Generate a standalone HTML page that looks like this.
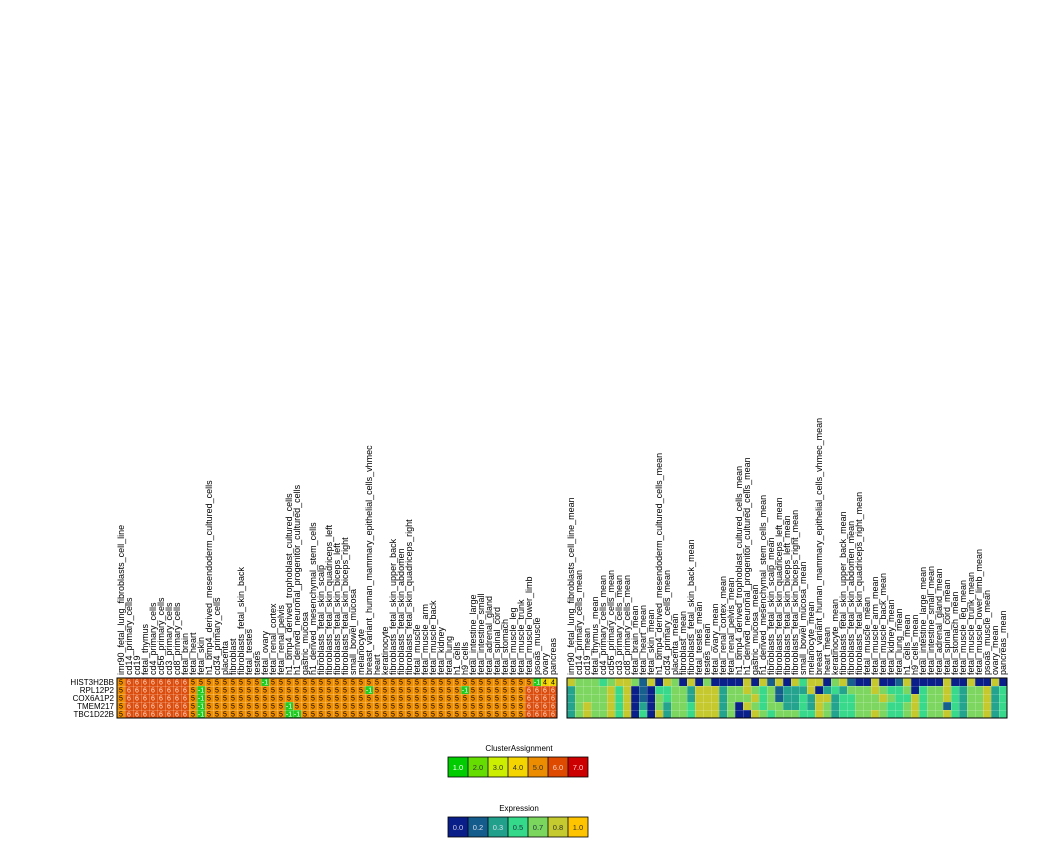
<!DOCTYPE html>
<html><head><meta charset="utf-8"><style>
html,body{margin:0;padding:0;background:#fff;}
svg{display:block;font-family:"Liberation Sans",sans-serif;}
.cl text{font-size:9px;fill:#000;}
.rl{font-size:8px;text-anchor:end;}
.cd{font-size:7px;text-anchor:middle;}
</style></head><body>
<svg id="s" width="1038" height="858" viewBox="0 0 1038 858" xmlns="http://www.w3.org/2000/svg">
<defs>
<pattern id="gl" x="117" y="678" width="8" height="8" patternUnits="userSpaceOnUse"><rect width="8" height="0.6" fill="rgba(255,255,255,0.35)"/><rect width="0.6" height="8" fill="rgba(255,255,255,0.35)"/></pattern>
<pattern id="gr" x="567" y="678" width="8" height="8" patternUnits="userSpaceOnUse"><rect width="8" height="0.6" fill="rgba(255,255,255,0.3)"/><rect width="0.6" height="8" fill="rgba(255,255,255,0.3)"/></pattern>
</defs>
<g class="cl">
<text transform="matrix(0 -1 1 0 124 675)">imr90_fetal_lung_fibroblasts_cell_line</text>
<text transform="matrix(0 -1 1 0 132 675)">cd14_primary_cells</text>
<text transform="matrix(0 -1 1 0 140 675)">cd19</text>
<text transform="matrix(0 -1 1 0 148 675)">fetal_thymus</text>
<text transform="matrix(0 -1 1 0 156 675)">cd4_primary_cells</text>
<text transform="matrix(0 -1 1 0 164 675)">cd56_primary_cells</text>
<text transform="matrix(0 -1 1 0 172 675)">cd3_primary_cells</text>
<text transform="matrix(0 -1 1 0 180 675)">cd8_primary_cells</text>
<text transform="matrix(0 -1 1 0 188 675)">fetal_brain</text>
<text transform="matrix(0 -1 1 0 196 675)">fetal_heart</text>
<text transform="matrix(0 -1 1 0 204 675)">fetal_skin</text>
<text transform="matrix(0 -1 1 0 212 675)">h1_bmp4_derived_mesendoderm_cultured_cells</text>
<text transform="matrix(0 -1 1 0 220 675)">cd34_primary_cells</text>
<text transform="matrix(0 -1 1 0 228 675)">placenta</text>
<text transform="matrix(0 -1 1 0 236 675)">fibroblast</text>
<text transform="matrix(0 -1 1 0 244 675)">fibroblasts_fetal_skin_back</text>
<text transform="matrix(0 -1 1 0 252 675)">fetal_testes</text>
<text transform="matrix(0 -1 1 0 260 675)">testes</text>
<text transform="matrix(0 -1 1 0 268 675)">fetal_ovary</text>
<text transform="matrix(0 -1 1 0 276 675)">fetal_renal_cortex</text>
<text transform="matrix(0 -1 1 0 284 675)">fetal_renal_pelvis</text>
<text transform="matrix(0 -1 1 0 292 675)">h1_bmp4_derived_trophoblast_cultured_cells</text>
<text transform="matrix(0 -1 1 0 300 675)">h1_derived_neuronal_progenitor_cultured_cells</text>
<text transform="matrix(0 -1 1 0 308 675)">gastric_mucosa</text>
<text transform="matrix(0 -1 1 0 316 675)">h1_derived_mesenchymal_stem_cells</text>
<text transform="matrix(0 -1 1 0 324 675)">fibroblasts_fetal_skin_scalp</text>
<text transform="matrix(0 -1 1 0 332 675)">fibroblasts_fetal_skin_quadriceps_left</text>
<text transform="matrix(0 -1 1 0 340 675)">fibroblasts_fetal_skin_biceps_left</text>
<text transform="matrix(0 -1 1 0 348 675)">fibroblasts_fetal_skin_biceps_right</text>
<text transform="matrix(0 -1 1 0 356 675)">small_bowel_mucosa</text>
<text transform="matrix(0 -1 1 0 364 675)">melanocyte</text>
<text transform="matrix(0 -1 1 0 372 675)">breast_variant_human_mammary_epithelial_cells_vhmec</text>
<text transform="matrix(0 -1 1 0 380 675)">heart</text>
<text transform="matrix(0 -1 1 0 388 675)">keratinocyte</text>
<text transform="matrix(0 -1 1 0 396 675)">fibroblasts_fetal_skin_upper_back</text>
<text transform="matrix(0 -1 1 0 404 675)">fibroblasts_fetal_skin_abdomen</text>
<text transform="matrix(0 -1 1 0 412 675)">fibroblasts_fetal_skin_quadriceps_right</text>
<text transform="matrix(0 -1 1 0 420 675)">fetal_muscle</text>
<text transform="matrix(0 -1 1 0 428 675)">fetal_muscle_arm</text>
<text transform="matrix(0 -1 1 0 436 675)">fetal_muscle_back</text>
<text transform="matrix(0 -1 1 0 444 675)">fetal_kidney</text>
<text transform="matrix(0 -1 1 0 452 675)">fetal_lung</text>
<text transform="matrix(0 -1 1 0 460 675)">h1_cells</text>
<text transform="matrix(0 -1 1 0 468 675)">h9_cells</text>
<text transform="matrix(0 -1 1 0 476 675)">fetal_intestine_large</text>
<text transform="matrix(0 -1 1 0 484 675)">fetal_intestine_small</text>
<text transform="matrix(0 -1 1 0 492 675)">fetal_adrenal_gland</text>
<text transform="matrix(0 -1 1 0 500 675)">fetal_spinal_cord</text>
<text transform="matrix(0 -1 1 0 508 675)">fetal_stomach</text>
<text transform="matrix(0 -1 1 0 516 675)">fetal_muscle_leg</text>
<text transform="matrix(0 -1 1 0 524 675)">fetal_muscle_trunk</text>
<text transform="matrix(0 -1 1 0 532 675)">fetal_muscle_lower_limb</text>
<text transform="matrix(0 -1 1 0 540 675)">psoas_muscle</text>
<text transform="matrix(0 -1 1 0 548 675)">ovary</text>
<text transform="matrix(0 -1 1 0 556 675)">pancreas</text>

<text transform="matrix(0 -1 1 0 574 675)">imr90_fetal_lung_fibroblasts_cell_line_mean</text>
<text transform="matrix(0 -1 1 0 582 675)">cd14_primary_cells_mean</text>
<text transform="matrix(0 -1 1 0 590 675)">cd19_mean</text>
<text transform="matrix(0 -1 1 0 598 675)">fetal_thymus_mean</text>
<text transform="matrix(0 -1 1 0 606 675)">cd4_primary_cells_mean</text>
<text transform="matrix(0 -1 1 0 614 675)">cd56_primary_cells_mean</text>
<text transform="matrix(0 -1 1 0 622 675)">cd3_primary_cells_mean</text>
<text transform="matrix(0 -1 1 0 630 675)">cd8_primary_cells_mean</text>
<text transform="matrix(0 -1 1 0 638 675)">fetal_brain_mean</text>
<text transform="matrix(0 -1 1 0 646 675)">fetal_heart_mean</text>
<text transform="matrix(0 -1 1 0 654 675)">fetal_skin_mean</text>
<text transform="matrix(0 -1 1 0 662 675)">h1_bmp4_derived_mesendoderm_cultured_cells_mean</text>
<text transform="matrix(0 -1 1 0 670 675)">cd34_primary_cells_mean</text>
<text transform="matrix(0 -1 1 0 678 675)">placenta_mean</text>
<text transform="matrix(0 -1 1 0 686 675)">fibroblast_mean</text>
<text transform="matrix(0 -1 1 0 694 675)">fibroblasts_fetal_skin_back_mean</text>
<text transform="matrix(0 -1 1 0 702 675)">fetal_testes_mean</text>
<text transform="matrix(0 -1 1 0 710 675)">testes_mean</text>
<text transform="matrix(0 -1 1 0 718 675)">fetal_ovary_mean</text>
<text transform="matrix(0 -1 1 0 726 675)">fetal_renal_cortex_mean</text>
<text transform="matrix(0 -1 1 0 734 675)">fetal_renal_pelvis_mean</text>
<text transform="matrix(0 -1 1 0 742 675)">h1_bmp4_derived_trophoblast_cultured_cells_mean</text>
<text transform="matrix(0 -1 1 0 750 675)">h1_derived_neuronal_progenitor_cultured_cells_mean</text>
<text transform="matrix(0 -1 1 0 758 675)">gastric_mucosa_mean</text>
<text transform="matrix(0 -1 1 0 766 675)">h1_derived_mesenchymal_stem_cells_mean</text>
<text transform="matrix(0 -1 1 0 774 675)">fibroblasts_fetal_skin_scalp_mean</text>
<text transform="matrix(0 -1 1 0 782 675)">fibroblasts_fetal_skin_quadriceps_left_mean</text>
<text transform="matrix(0 -1 1 0 790 675)">fibroblasts_fetal_skin_biceps_left_mean</text>
<text transform="matrix(0 -1 1 0 798 675)">fibroblasts_fetal_skin_biceps_right_mean</text>
<text transform="matrix(0 -1 1 0 806 675)">small_bowel_mucosa_mean</text>
<text transform="matrix(0 -1 1 0 814 675)">melanocyte_mean</text>
<text transform="matrix(0 -1 1 0 822 675)">breast_variant_human_mammary_epithelial_cells_vhmec_mean</text>
<text transform="matrix(0 -1 1 0 830 675)">heart_mean</text>
<text transform="matrix(0 -1 1 0 838 675)">keratinocyte_mean</text>
<text transform="matrix(0 -1 1 0 846 675)">fibroblasts_fetal_skin_upper_back_mean</text>
<text transform="matrix(0 -1 1 0 854 675)">fibroblasts_fetal_skin_abdomen_mean</text>
<text transform="matrix(0 -1 1 0 862 675)">fibroblasts_fetal_skin_quadriceps_right_mean</text>
<text transform="matrix(0 -1 1 0 870 675)">fetal_muscle_mean</text>
<text transform="matrix(0 -1 1 0 878 675)">fetal_muscle_arm_mean</text>
<text transform="matrix(0 -1 1 0 886 675)">fetal_muscle_back_mean</text>
<text transform="matrix(0 -1 1 0 894 675)">fetal_kidney_mean</text>
<text transform="matrix(0 -1 1 0 902 675)">fetal_lung_mean</text>
<text transform="matrix(0 -1 1 0 910 675)">h1_cells_mean</text>
<text transform="matrix(0 -1 1 0 918 675)">h9_cells_mean</text>
<text transform="matrix(0 -1 1 0 926 675)">fetal_intestine_large_mean</text>
<text transform="matrix(0 -1 1 0 934 675)">fetal_intestine_small_mean</text>
<text transform="matrix(0 -1 1 0 942 675)">fetal_adrenal_gland_mean</text>
<text transform="matrix(0 -1 1 0 950 675)">fetal_spinal_cord_mean</text>
<text transform="matrix(0 -1 1 0 958 675)">fetal_stomach_mean</text>
<text transform="matrix(0 -1 1 0 966 675)">fetal_muscle_leg_mean</text>
<text transform="matrix(0 -1 1 0 974 675)">fetal_muscle_trunk_mean</text>
<text transform="matrix(0 -1 1 0 982 675)">fetal_muscle_lower_limb_mean</text>
<text transform="matrix(0 -1 1 0 990 675)">psoas_muscle_mean</text>
<text transform="matrix(0 -1 1 0 998 675)">ovary_mean</text>
<text transform="matrix(0 -1 1 0 1006 675)">pancreas_mean</text>
</g>

<text class="rl" x="114" y="685">HIST3H2BB</text>
<text class="rl" x="114" y="693">RPL12P2</text>
<text class="rl" x="114" y="701">COX6A1P2</text>
<text class="rl" x="114" y="709">TMEM217</text>
<text class="rl" x="114" y="717">TBC1D22B</text>

<rect x="117" y="678" width="440" height="40" fill="#ee8e00"/>
<rect x="125" y="678" width="64" height="40" fill="#dc4c0c"/>
<rect x="525" y="686" width="32" height="32" fill="#dc4c0c"/>
<rect x="541" y="678" width="16" height="8" fill="#f2d400"/>
<g fill="#1fcc1f">
<rect x="261" y="678" width="8" height="8"/><rect x="533" y="678" width="8" height="8"/>
<rect x="197" y="686" width="8" height="8"/><rect x="365" y="686" width="8" height="8"/><rect x="461" y="686" width="8" height="8"/>
<rect x="197" y="694" width="8" height="8"/>
<rect x="197" y="702" width="8" height="8"/><rect x="285" y="702" width="8" height="8"/>
<rect x="197" y="710" width="8" height="8"/><rect x="285" y="710" width="16" height="8"/>
</g>
<rect x="117" y="678" width="440" height="40" fill="url(#gl)"/>
<g class="cd">
<text x="121 129 137 145 153 161 169 177 185 193 201 209 217 225 233 241 249 257 265 273 281 289 297 305 313 321 329 337 345 353 361 369 377 385 393 401 409 417 425 433 441 449 457 465 473 481 489 497 505 513 521 529 537 545 553" y="684.5">5<tspan fill="#fde0d0">66666666</tspan>555555555&#160;555555555555555555555555555555555&#160;44</text>
<text x="121 129 137 145 153 161 169 177 185 193 201 209 217 225 233 241 249 257 265 273 281 289 297 305 313 321 329 337 345 353 361 369 377 385 393 401 409 417 425 433 441 449 457 465 473 481 489 497 505 513 521 529 537 545 553" y="692.5">5<tspan fill="#fde0d0">66666666</tspan>5&#160;55555555555555555555&#160;55555555555&#160;5555555<tspan fill="#fde0d0">6666</tspan></text>
<text x="121 129 137 145 153 161 169 177 185 193 201 209 217 225 233 241 249 257 265 273 281 289 297 305 313 321 329 337 345 353 361 369 377 385 393 401 409 417 425 433 441 449 457 465 473 481 489 497 505 513 521 529 537 545 553" y="700.5">5<tspan fill="#fde0d0">66666666</tspan>5&#160;5555555555555555555555555555555555555555<tspan fill="#fde0d0">6666</tspan></text>
<text x="121 129 137 145 153 161 169 177 185 193 201 209 217 225 233 241 249 257 265 273 281 289 297 305 313 321 329 337 345 353 361 369 377 385 393 401 409 417 425 433 441 449 457 465 473 481 489 497 505 513 521 529 537 545 553" y="708.5">5<tspan fill="#fde0d0">66666666</tspan>5&#160;5555555555&#160;55555555555555555555555555555<tspan fill="#fde0d0">6666</tspan></text>
<text x="121 129 137 145 153 161 169 177 185 193 201 209 217 225 233 241 249 257 265 273 281 289 297 305 313 321 329 337 345 353 361 369 377 385 393 401 409 417 425 433 441 449 457 465 473 481 489 497 505 513 521 529 537 545 553" y="716.5">5<tspan fill="#fde0d0">66666666</tspan>5&#160;5555555555&#160;&#160;5555555555555555555555555555<tspan fill="#fde0d0">6666</tspan></text>
<g fill="#fff">
<text x="265" y="684.5">-1</text><text x="537" y="684.5">-1</text>
<text x="201" y="692.5">-1</text><text x="369" y="692.5">-1</text><text x="465" y="692.5">-1</text>
<text x="201" y="700.5">-1</text>
<text x="201" y="708.5">-1</text><text x="289" y="708.5">-1</text>
<text x="201" y="716.5">-1</text><text x="289" y="716.5">-1</text><text x="297" y="716.5">-1</text>
</g>
</g>
<rect x="117" y="678" width="440" height="40" fill="none" stroke="#000" stroke-width="1"/>

<g id="rh"></g>
<rect x="567" y="678" width="440" height="40" fill="url(#gr)"/>
<rect x="567" y="678" width="440" height="40" fill="none" stroke="#000" stroke-width="1"/>

<text x="519" y="751" font-size="8" text-anchor="middle">ClusterAssignment</text>
<rect x="448" y="757" width="20" height="20" fill="#00cc00"/>
<rect x="468" y="757" width="20" height="20" fill="#66dd00"/>
<rect x="488" y="757" width="20" height="20" fill="#ccee00"/>
<rect x="508" y="757" width="20" height="20" fill="#f5d500"/>
<rect x="528" y="757" width="20" height="20" fill="#ec8c00"/>
<rect x="548" y="757" width="20" height="20" fill="#dd4a00"/>
<rect x="568" y="757" width="20" height="20" fill="#cc0000"/>
<g stroke="#000" stroke-width="0.8" fill="none"><rect x="448" y="757" width="140" height="20"/>
<path d="M468 757V777M488 757V777M508 757V777M528 757V777M548 757V777M568 757V777"/></g>
<g font-size="7.5" text-anchor="middle">
<text x="458" y="770" fill="#fff">1.0</text><text x="478" y="770" fill="#333">2.0</text><text x="498" y="770" fill="#333">3.0</text><text x="518" y="770" fill="#333">4.0</text><text x="538" y="770" fill="#333">5.0</text><text x="558" y="770" fill="#f5d0c0">6.0</text><text x="578" y="770" fill="#fcc">7.0</text>
</g>

<text x="519" y="811" font-size="8" text-anchor="middle">Expression</text>
<rect x="448" y="817" width="20" height="20" fill="#0a1e8a"/>
<rect x="468" y="817" width="20" height="20" fill="#145c8c"/>
<rect x="488" y="817" width="20" height="20" fill="#21a08c"/>
<rect x="508" y="817" width="20" height="20" fill="#35d98a"/>
<rect x="528" y="817" width="20" height="20" fill="#7bd65e"/>
<rect x="548" y="817" width="20" height="20" fill="#c5cb2e"/>
<rect x="568" y="817" width="20" height="20" fill="#ffc400"/>
<g stroke="#000" stroke-width="0.8" fill="none"><rect x="448" y="817" width="140" height="20"/>
<path d="M468 817V837M488 817V837M508 817V837M528 817V837M548 817V837M568 817V837"/></g>
<g font-size="7.5" text-anchor="middle">
<text x="458" y="830" fill="#ccd">0.0</text><text x="478" y="830" fill="#dde">0.2</text><text x="498" y="830" fill="#dde">0.3</text><text x="518" y="830" fill="#234">0.5</text><text x="538" y="830" fill="#234">0.7</text><text x="558" y="830" fill="#333">0.8</text><text x="578" y="830" fill="#333">1.0</text>
</g>
</svg>
<script>
(function(){
var rows=[
"feeedeffebfafe"+"afaeaaaafafbfa"+"fdffaefbaafaa"+"bfaaaafaafaafa",
"ceeeefdfabadde"+"ecfffceefedebc"+"ccfacdceeefed"+"deadeefdceefcd",
"ceeeefdfabaede"+"ecfffceeefdebc"+"cdcffcddeeefe"+"ddfdeefdceefcd",
"cefeefdfacaece"+"edfffceafedeec"+"cdcfecddeeeed"+"defdeebdceefcd",
"cefeefdfadafce"+"edfffceaafedee"+"eddfecddeefed"+"defdeefdceefcd"];
var col={a:"#0b1f8a",b:"#175f8d",c:"#24a38f",d:"#38d98b",e:"#7cd660",f:"#c5c92e"};
var g=document.getElementById("rh"),ns="http://www.w3.org/2000/svg";
for(var r=0;r<5;r++){for(var k=0;k<55;k++){var ch=rows[r][k]||"e";var e=document.createElementNS(ns,"rect");
e.setAttribute("x",567+8*k);e.setAttribute("y",678+8*r);e.setAttribute("width",8);e.setAttribute("height",8);e.setAttribute("fill",col[ch]);g.appendChild(e);}}
})();
</script>
</body></html>
